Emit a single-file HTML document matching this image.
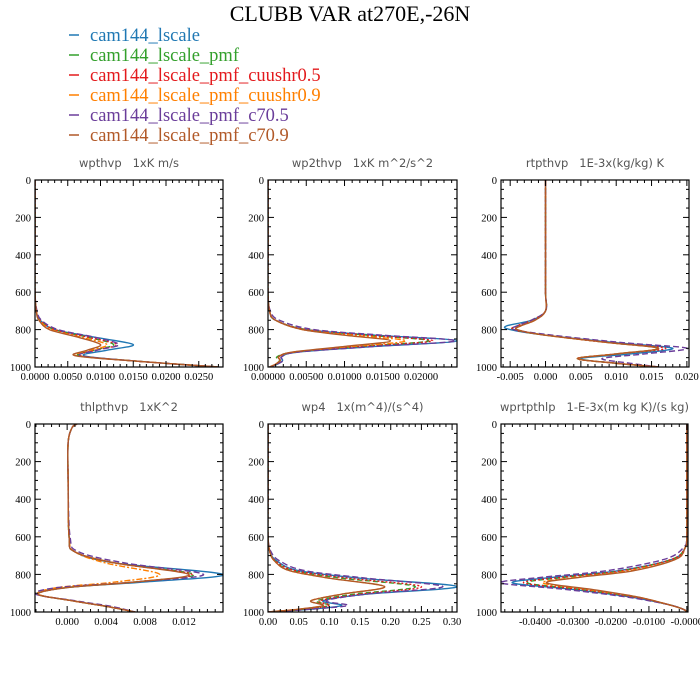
<!DOCTYPE html>
<html><head><meta charset="utf-8"><style>
body{margin:0;background:#fff}
svg{display:block}
.tk{font-family:"Liberation Serif",serif;font-size:10.5px;fill:#000}
.pt{font-family:"DejaVu Sans","Liberation Sans",sans-serif;font-size:11.5px;fill:#555;white-space:pre}
.lg{font-family:"Liberation Serif",serif;font-size:18.5px}
</style></head><body>
<svg id="chart" width="700" height="700" viewBox="0 0 700 700">
<text x="350" y="21" text-anchor="middle" font-family="Liberation Serif,serif" font-size="22">CLUBB VAR at270E,-26N</text>
<g id="legend"></g>
<g id="panels"></g>
</svg>
<script>
const seriesNames=["cam144_lscale","cam144_lscale_pmf","cam144_lscale_pmf_cuushr0.5","cam144_lscale_pmf_cuushr0.9","cam144_lscale_pmf_c70.5","cam144_lscale_pmf_c70.9"];
const seriesColors=["#1f78b4","#33a02c","#e31a1c","#ff7f00","#6a3d9a","#b15928"];
const seriesDash=["","5,3","2,2","6,2,2,2","6,3",""];
const yTicks=[0,200,400,600,800,1000];

const p1Lev=[0,200,400,600,700,750,800,840,880,910,940,970,1000];
const p1Vals=[
[0,0,0,0,0.0002,0.0008,0.003,0.009,0.0150,0.0110,0.0075,0.016,0.028],
[0,0,0,0,0.0002,0.0008,0.003,0.008,0.0120,0.0090,0.0068,0.016,0.028],
[0,0,0,0,0.0002,0.0008,0.003,0.008,0.0125,0.0092,0.0070,0.016,0.028],
[0,0,0,0,0.0002,0.0007,0.0025,0.007,0.0110,0.0085,0.0065,0.016,0.028],
[0,0,0,0,0.0003,0.0010,0.0035,0.009,0.0128,0.0095,0.0070,0.016,0.028],
[0,0,0,0,0.0002,0.0006,0.0022,0.0065,0.0100,0.0080,0.0062,0.016,0.028]];
const p1Ticks=[0,0.005,0.01,0.015,0.02,0.025];
const p1Labels=["0.0000","0.0050","0.0100","0.0150","0.0200","0.0250"];

const p2Lev=[0,200,400,600,700,750,800,830,860,890,920,945,965,985,1000];
const p2Vals=[
[0,0,0,0,0.0002,0.001,0.005,0.014,0.0247,0.014,0.004,0.0018,0.0019,0.0012,0.0002],
[0,0,0,0,0.0002,0.001,0.005,0.013,0.0210,0.012,0.0035,0.0012,0.0015,0.0010,0.0002],
[0,0,0,0,0.0002,0.001,0.005,0.013,0.0215,0.012,0.0035,0.0014,0.0016,0.0010,0.0002],
[0,0,0,0,0.0002,0.001,0.0045,0.011,0.0180,0.011,0.0033,0.0015,0.0016,0.0010,0.0002],
[0,0,0,0,0.0003,0.0015,0.006,0.015,0.0245,0.014,0.004,0.0018,0.0020,0.0012,0.0002],
[0,0,0,0,0.0002,0.001,0.0045,0.010,0.0160,0.010,0.0032,0.0014,0.0016,0.0010,0.0002]];
const p2Ticks=[0,0.005,0.01,0.015,0.02];
const p2Labels=["0.00000","0.00500","0.01000","0.01500","0.02000"];

const p3Lev=[0,200,400,600,700,750,780,800,830,870,900,930,955,980,1000];
const p3Vals=[
[0,0,0,0,0,-0.002,-0.0055,-0.005,0.000,0.010,0.018,0.012,0.005,0.010,0.016],
[0,0,0,0,0,-0.002,-0.004,-0.0045,0.000,0.009,0.016,0.010,0.0045,0.010,0.016],
[0,0,0,0,0,-0.002,-0.004,-0.0045,0.000,0.009,0.017,0.010,0.0045,0.010,0.016],
[0,0,0,0,0,-0.0015,-0.0035,-0.004,0.000,0.009,0.016,0.010,0.0045,0.010,0.016],
[0,0,0,0,0,-0.002,-0.004,-0.0045,0.001,0.011,0.0200,0.014,0.008,0.012,0.016],
[0,0,0,0,0,-0.0015,-0.0035,-0.004,0.000,0.009,0.016,0.010,0.0045,0.010,0.016]];
const p3Ticks=[-0.005,0,0.005,0.01,0.015,0.02];
const p3Labels=["-0.005","0.000","0.005","0.010","0.015","0.020"];

const p4Lev=[0,20,100,300,600,680,740,800,840,870,905,940,970,1000];
const p4Vals=[
[0.0010,0.0005,0.0001,0.0001,0.0002,0.0008,0.005,0.0160,0.008,0.000,-0.0030,0.0005,0.004,0.0070],
[0.0010,0.0005,0.0001,0.0001,0.0002,0.0008,0.005,0.0130,0.007,0.000,-0.0030,0.0005,0.004,0.0070],
[0.0010,0.0005,0.0001,0.0001,0.0002,0.0008,0.005,0.0128,0.007,0.000,-0.0030,0.0005,0.004,0.0070],
[0.0010,0.0005,0.0001,0.0001,0.0002,0.0008,0.004,0.0095,0.005,-0.001,-0.0030,0.0005,0.004,0.0070],
[0.0010,0.0005,0.0001,0.0001,0.0003,0.0012,0.006,0.0140,0.007,-0.001,-0.0032,0.0008,0.0045,0.0070],
[0.0010,0.0005,0.0001,0.0001,0.0002,0.0008,0.005,0.0125,0.007,0.000,-0.0030,0.0005,0.004,0.0070]];
const p4Ticks=[0,0.004,0.008,0.012];
const p4Labels=["0.000","0.004","0.008","0.012"];

const p5Lev=[0,200,400,600,680,730,780,820,865,905,940,965,985,1000];
const p5Vals=[
[0,0,0,0,0.003,0.015,0.05,0.15,0.308,0.16,0.09,0.12,0.07,0.0],
[0,0,0,0,0.003,0.012,0.04,0.12,0.240,0.14,0.08,0.10,0.06,0.0],
[0,0,0,0,0.003,0.013,0.045,0.13,0.250,0.15,0.085,0.10,0.06,0.0],
[0,0,0,0,0.003,0.011,0.035,0.10,0.190,0.12,0.07,0.09,0.05,0.0],
[0,0,0,0,0.005,0.02,0.06,0.16,0.285,0.16,0.095,0.13,0.07,0.0],
[0,0,0,0,0.003,0.011,0.035,0.10,0.190,0.12,0.07,0.09,0.05,0.0]];
const p5Ticks=[0,0.05,0.1,0.15,0.2,0.25,0.3];
const p5Labels=["0.00","0.05","0.10","0.15","0.20","0.25","0.30"];

const p6Lev=[0,200,400,600,660,720,780,815,845,880,920,960,985,1000];
const p6Vals=[
[0,0,0,0,-0.0005,-0.004,-0.018,-0.035,-0.046,-0.030,-0.015,-0.005,-0.001,0],
[0,0,0,0,-0.0005,-0.004,-0.017,-0.032,-0.042,-0.028,-0.014,-0.005,-0.001,0],
[0,0,0,0,-0.0005,-0.004,-0.017,-0.033,-0.043,-0.028,-0.014,-0.005,-0.001,0],
[0,0,0,0,-0.0005,-0.003,-0.015,-0.029,-0.038,-0.026,-0.013,-0.005,-0.001,0],
[0,0,0,0,-0.001,-0.006,-0.021,-0.038,-0.049,-0.032,-0.016,-0.005,-0.001,0],
[0,0,0,0,-0.0005,-0.003,-0.014,-0.028,-0.037,-0.025,-0.013,-0.005,-0.001,0]];
const p6Ticks=[-0.04,-0.03,-0.02,-0.01,0];
const p6Labels=["-0.0400","-0.0300","-0.0200","-0.0100","-0.0000"];

const panels=[
 {name:"wpthvp",title:"wpthvp   1xK m/s",box:[35,180,223,367],xr:[0,0.0287],lev:p1Lev,vals:p1Vals,ticks:p1Ticks,labels:p1Labels},
 {name:"wp2thvp",title:"wp2thvp   1xK m^2/s^2",box:[268,180,457,367],xr:[0,0.0247],lev:p2Lev,vals:p2Vals,ticks:p2Ticks,labels:p2Labels},
 {name:"rtpthvp",title:"rtpthvp   1E-3x(kg/kg) K",box:[501,180,689,367],xr:[-0.0063,0.0203],lev:p3Lev,vals:p3Vals,ticks:p3Ticks,labels:p3Labels},
 {name:"thlpthvp",title:"thlpthvp   1xK^2",box:[35,424,223,612],xr:[-0.0033,0.0160],lev:p4Lev,vals:p4Vals,ticks:p4Ticks,labels:p4Labels},
 {name:"wp4",title:"wp4   1x(m^4)/(s^4)",box:[268,424,457,612],xr:[0,0.308],lev:p5Lev,vals:p5Vals,ticks:p5Ticks,labels:p5Labels},
 {name:"wprtpthlp",title:"wprtpthlp   1-E-3x(m kg K)/(s kg)",box:[501,424,688,612],xr:[-0.049,0.0003],lev:p6Lev,vals:p6Vals,ticks:p6Ticks,labels:p6Labels}];

const NS="http://www.w3.org/2000/svg";
function mk(t,a,p){const e=document.createElementNS(NS,t);for(const k in a)e.setAttribute(k,a[k]);p.appendChild(e);return e;}
function spline(pts){let d="M"+pts[0][0].toFixed(2)+","+pts[0][1].toFixed(2);
 for(let i=0;i<pts.length-1;i++){const p0=pts[Math.max(0,i-1)],p1=pts[i],p2=pts[i+1],p3=pts[Math.min(pts.length-1,i+2)];
  const c1=[p1[0]+(p2[0]-p0[0])/6,p1[1]+(p2[1]-p0[1])/6],c2=[p2[0]-(p3[0]-p1[0])/6,p2[1]-(p3[1]-p1[1])/6];
  d+="C"+c1[0].toFixed(2)+","+c1[1].toFixed(2)+" "+c2[0].toFixed(2)+","+c2[1].toFixed(2)+" "+p2[0].toFixed(2)+","+p2[1].toFixed(2);}
 return d;}

const lg=document.getElementById("legend");
seriesNames.forEach((n,i)=>{
 const y=35+i*20;
 const l=mk("line",{x1:69,x2:79,y1:y,y2:y,stroke:seriesColors[i],"stroke-width":1.5},lg);
 
 
 const t=mk("text",{x:90,y:y+6,class:"lg",fill:seriesColors[i]},lg);
 t.textContent=n;
 
 
});

const root=document.getElementById("panels");
panels.forEach(p=>{
 const g=mk("g",{},root);
 
 
 const [x0,y0,x1,y1]=p.box;
 const sx=v=>x0+(v-p.xr[0])/(p.xr[1]-p.xr[0])*(x1-x0);
 const sy=v=>y0+v/1000*(y1-y0);
 const tt=mk("text",{x:(x0+x1)/2,y:y0-13,"text-anchor":"middle",class:"pt"},g);
 tt.textContent=p.title;
 
 
 const clip="clip-"+p.name;
 const cp=mk("clipPath",{id:clip},g);mk("rect",{x:x0,y:y0,width:x1-x0,height:y1-y0},cp);
 const lines=mk("g",{"clip-path":"url(#"+clip+")"},g);
 p.vals.forEach((vals,si)=>{
  const pts=vals.map((v,k)=>[sx(v),sy(p.lev[k])]);
  const a={d:spline(pts),fill:"none",stroke:seriesColors[si],"stroke-width":1.4};
  if(seriesDash[si])a["stroke-dasharray"]=seriesDash[si];
  const pa=mk("path",a,lines);
  
  
 });
 const fr=mk("rect",{x:x0,y:y0,width:x1-x0,height:y1-y0,fill:"none",stroke:"#000","stroke-width":1.2},g);
 
 
 for(let v=0;v<=1000;v+=50){const y=sy(v),L=(v%200===0)?6:3;
  mk("line",{x1:x0,x2:x0+L,y1:y,y2:y,stroke:"#000","stroke-width":1},g);
  mk("line",{x1:x1,x2:x1-L,y1:y,y2:y,stroke:"#000","stroke-width":1},g);}
 yTicks.forEach(v=>{const t=mk("text",{x:x0-4,y:sy(v)+4,"text-anchor":"end",class:"tk"},g);t.textContent=v;
  
  });
 const step=p.ticks[1]-p.ticks[0],minor=step/5;
 for(let v=p.ticks[0]-5*minor;v<=p.xr[1]+1e-9;v+=minor){if(v<p.xr[0]-1e-9)continue;const x=sx(v);
  const isMaj=Math.abs(Math.round((v-p.ticks[0])/step)*step-(v-p.ticks[0]))<minor/10,L=isMaj?6:3;
  mk("line",{x1:x,x2:x,y1:y1,y2:y1-L,stroke:"#000","stroke-width":1},g);
  mk("line",{x1:x,x2:x,y1:y0,y2:y0+L,stroke:"#000","stroke-width":1},g);}
 p.ticks.forEach((v,i)=>{const t=mk("text",{x:sx(v),y:y1+13,"text-anchor":"middle",class:"tk"},g);t.textContent=p.labels[i];
  
  });
});
</script>
</body></html>
